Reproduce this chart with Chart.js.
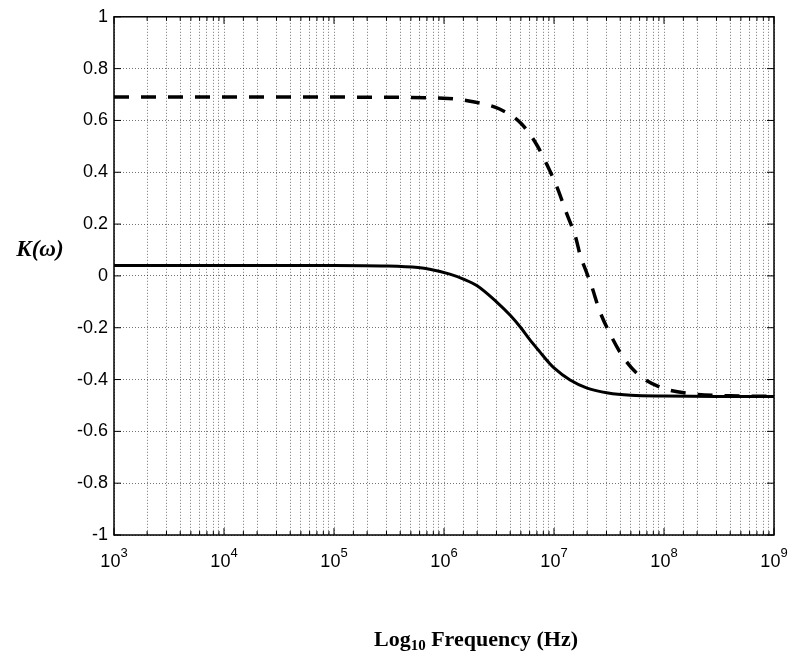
<!DOCTYPE html>
<html>
<head>
<meta charset="utf-8">
<script src="https://cdn.jsdelivr.net/npm/chart.js@4.4.1/dist/chart.umd.min.js"></script>
<style>
  html, body { margin: 0; padding: 0; background: #fff; }
  #wrap { width: 788px; height: 652px; }
</style>
</head>
<body>
<div id="wrap"><canvas id="c" width="788" height="652"></canvas></div>
<script>
// ---- data ----
const solidFreq  = [1e3, 1e4, 1e5, 3e5, 5.8e5, 7.4e5, 1.13e6, 1.5e6, 2e6, 3e6, 4e6, 5e6, 6e6, 7.5e6, 9e6, 1e7, 1.4e7, 2e7, 3.1e7, 5e7, 1e8, 3e8, 1e9];
const solidK     = [0.040, 0.040, 0.040, 0.038, 0.032, 0.026, 0.007, -0.012, -0.038, -0.100, -0.152, -0.200, -0.245, -0.295, -0.335, -0.355, -0.402, -0.433, -0.452, -0.461, -0.464, -0.465, -0.465];
const dashFreq   = [1e3, 1e4, 1e5, 1.09e6, 1.84e6, 3.2e6, 5e6, 6.9e6, 8.7e6, 1.08e7, 1.3e7, 1.57e7, 1.73e7, 1.95e7, 2.2e7, 2.6e7, 3.2e7, 4.2e7, 5.8e7, 9.3e7, 1.8e8, 4e8, 1e9];
const dashK      = [0.690, 0.690, 0.690, 0.685, 0.672, 0.644, 0.589, 0.509, 0.426, 0.336, 0.242, 0.150, 0.080, 0.020, -0.040, -0.135, -0.220, -0.310, -0.380, -0.430, -0.455, -0.463, -0.465];
const xTickExponents = [3, 4, 5, 6, 7, 8, 9];
const yTickLabels = ['1', '0.8', '0.6', '0.4', '0.2', '0', '-0.2', '-0.4', '-0.6', '-0.8', '-1'];
const yAxisTitle = 'K(ω)';
const xAxisTitle = ['Log', '10', ' Frequency (Hz)'];

const toPoints = (xs, ys) => xs.map((x, i) => ({ x: x, y: ys[i] }));

const overlay = {
  id: 'overlay',
  afterDraw(chart) {
    const ctx = chart.ctx;
    const a = chart.chartArea;
    const xs = chart.scales.x, ys = chart.scales.y;
    ctx.save();
    // box
    ctx.strokeStyle = '#000';
    ctx.lineWidth = 1.5;
    ctx.strokeRect(a.left, a.top, a.right - a.left, a.bottom - a.top);
    // inner ticks on x (major + minor), top and bottom
    ctx.lineWidth = 1;
    xs.ticks.forEach(t => {
      const px = xs.getPixelForValue(t.value);
      const major = Math.abs(Math.log10(t.value) - Math.round(Math.log10(t.value))) < 1e-9;
      const len = major ? 7 : 4;
      ctx.beginPath();
      ctx.moveTo(px, a.bottom); ctx.lineTo(px, a.bottom - len);
      ctx.moveTo(px, a.top); ctx.lineTo(px, a.top + len);
      ctx.stroke();
    });
    // inner ticks on y, left and right
    ys.ticks.forEach(t => {
      const py = ys.getPixelForValue(t.value);
      ctx.beginPath();
      ctx.moveTo(a.left, py); ctx.lineTo(a.left + 7, py);
      ctx.moveTo(a.right, py); ctx.lineTo(a.right - 7, py);
      ctx.stroke();
    });
    // x tick labels: 10^n
    ctx.fillStyle = '#000';
    ctx.textBaseline = 'alphabetic';
    xTickExponents.forEach(e => {
      const px = xs.getPixelForValue(Math.pow(10, e));
      ctx.font = '18px "Liberation Sans", Arial, sans-serif';
      const wBase = ctx.measureText('10').width;
      ctx.font = '13px "Liberation Sans", Arial, sans-serif';
      const wExp = ctx.measureText(String(e)).width;
      const start = px - (wBase + wExp) / 2;
      ctx.font = '18px "Liberation Sans", Arial, sans-serif';
      ctx.textAlign = 'left';
      ctx.fillText('10', start, 567);
      ctx.font = '13px "Liberation Sans", Arial, sans-serif';
      ctx.fillText(String(e), start + wBase, 557);
    });
    // y axis title
    ctx.font = 'italic bold 23px "Liberation Serif", "Times New Roman", serif';
    ctx.textAlign = 'center';
    ctx.textBaseline = 'middle';
    ctx.fillText(yAxisTitle, 40, 250);
    // x axis title with subscript
    ctx.textBaseline = 'alphabetic';
    ctx.textAlign = 'left';
    const bigF = 'bold 22px "Liberation Serif", "Times New Roman", serif';
    const smallF = 'bold 15px "Liberation Serif", "Times New Roman", serif';
    ctx.font = bigF; const w1 = ctx.measureText(xAxisTitle[0]).width; const w3 = ctx.measureText(xAxisTitle[2]).width;
    ctx.font = smallF; const w2 = ctx.measureText(xAxisTitle[1]).width;
    let sx = 476 - (w1 + w2 + w3) / 2;
    const base = 646;
    ctx.font = bigF; ctx.fillText(xAxisTitle[0], sx, base); sx += w1;
    ctx.font = smallF; ctx.fillText(xAxisTitle[1], sx, base + 4); sx += w2;
    ctx.font = bigF; ctx.fillText(xAxisTitle[2], sx, base);
    ctx.restore();
  }
};

const gridCommon = { color: 'rgba(0,0,0,0.55)', lineWidth: 1, drawTicks: false };

new Chart(document.getElementById('c'), {
  type: 'line',
  data: {
    datasets: [
      { label: 'solid', data: toPoints(solidFreq, solidK), borderColor: '#000', borderWidth: 3, pointRadius: 0, fill: false, cubicInterpolationMode: 'monotone' },
      { label: 'dashed', data: toPoints(dashFreq, dashK), borderColor: '#000', borderWidth: 3.5, borderDash: [15, 12], pointRadius: 0, fill: false, cubicInterpolationMode: 'monotone' }
    ]
  },
  options: {
    responsive: false,
    animation: false,
    devicePixelRatio: 1,
    layout: { padding: { top: 16, right: 14, left: 0, bottom: 0 } },
    plugins: { legend: { display: false }, tooltip: { enabled: false } },
    scales: {
      x: {
        type: 'logarithmic', min: 1e3, max: 1e9,
        grid: gridCommon,
        border: { display: false, dash: [1, 2] },
        ticks: { display: false, autoSkip: false },
        afterFit: s => { s.height = 117; }
      },
      y: {
        type: 'linear', min: -1, max: 1,
        grid: gridCommon,
        border: { display: false, dash: [1, 2] },
        ticks: {
          stepSize: 0.2, autoSkip: false, padding: 6, color: '#000',
          font: { family: '"Liberation Sans", Arial, sans-serif', size: 18 },
          callback: (v, i) => yTickLabels[yTickLabels.length - 1 - i]
        },
        afterFit: s => { s.width = 114; }
      }
    }
  },
  plugins: [overlay]
});
</script>
</body>
</html>
